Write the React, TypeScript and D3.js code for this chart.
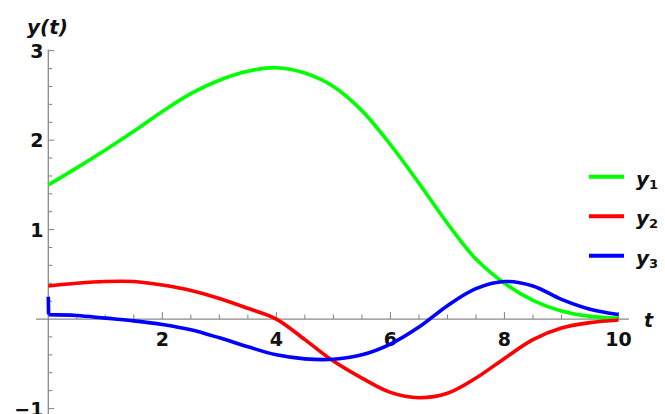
import React from 'react';
import { scaleLinear, line, curveCatmullRom, range } from 'd3';

// sampled from the reference plot, step 0.5 in t
const tValues = [0, 0.5, 1, 1.5, 2, 2.5, 3, 3.5, 4, 4.5, 5, 5.5, 6, 6.5, 7, 7.5, 8, 8.5, 9, 9.5, 10];
const y1Values = [1.5, 1.69, 1.89, 2.1, 2.32, 2.52, 2.67, 2.77, 2.81, 2.75, 2.6, 2.33, 1.95, 1.52, 1.07, 0.67, 0.4, 0.21, 0.09, 0.03, 0.01];
const y2Values = [0.37, 0.4, 0.42, 0.42, 0.38, 0.32, 0.23, 0.12, 0.0, -0.23, -0.47, -0.66, -0.82, -0.88, -0.83, -0.66, -0.44, -0.23, -0.1, -0.04, -0.01];
// y3 jumps right at t = 0 (first two points are joined straight)
const t3Values = [0, 0.005, 0.5, 1, 1.5, 2, 2.5, 3, 3.5, 4, 4.5, 5, 5.5, 6, 6.5, 7, 7.5, 8, 8.5, 9, 9.5, 10];
const y3Values = [0.25, 0.05, 0.04, 0.01, -0.02, -0.06, -0.12, -0.21, -0.31, -0.4, -0.445, -0.45, -0.4, -0.28, -0.09, 0.15, 0.34, 0.42, 0.37, 0.22, 0.11, 0.05];

const seriesNames = ['1', '2', '3'];
const seriesColors = ['#00ff00', '#ff0000', '#0000ff'];

const xMajor = [2, 4, 6, 8, 10];
const yMajor = [-1, 1, 2, 3];
const yMajorLabels = ['\u22121', '1', '2', '3'];

const width = 665;
const height = 414;
const axisColor = '#8a8a8a';
const font = '"DejaVu Sans", sans-serif';

function App() {
  const x = scaleLinear().domain([0, 10]).range([48.3, 618.5]);
  const y = scaleLinear().domain([-1, 3]).range([408.5, 50.7]);

  const xMinor = range(0.5, 10.01, 0.5).filter((v) => !xMajor.some((m) => Math.abs(m - v) < 1e-6));
  const yMinor = range(-1, 3.001, 0.2).filter((v) => Math.abs(v - Math.round(v)) > 1e-6);

  const smooth = line<[number, number]>()
    .x((d) => x(d[0]))
    .y((d) => y(d[1]))
    .curve(curveCatmullRom.alpha(0.5));
  const straight = line<[number, number]>()
    .x((d) => x(d[0]))
    .y((d) => y(d[1]));

  const pts = (ts: number[], vs: number[]) => ts.map((t, i) => [t, vs[i]] as [number, number]);
  const p1 = pts(tValues, y1Values);
  const p2 = pts(tValues, y2Values);
  const p3 = pts(t3Values, y3Values);

  const paths = [
    smooth(p1) || '',
    smooth(p2) || '',
    (straight(p3.slice(0, 2)) || '') + (smooth(p3.slice(1)) || ''),
  ];

  const y0 = y(0);

  return (
    <svg width={width} height={height} style={{ position: 'absolute', left: 0, top: 0, background: '#fff' }}>
      {/* axes */}
      <line x1={36} x2={629} y1={y0} y2={y0} stroke={axisColor} strokeWidth={1.3} />
      <line x1={x(0)} x2={x(0)} y1={49.5} y2={height} stroke={axisColor} strokeWidth={1.3} />

      {xMinor.map((v) => (
        <line key={'xm' + v} x1={x(v)} x2={x(v)} y1={y0} y2={y0 - 4.5} stroke={axisColor} strokeWidth={1.1} />
      ))}
      {xMajor.map((v) => (
        <line key={'xM' + v} x1={x(v)} x2={x(v)} y1={y0} y2={y0 - 7} stroke={axisColor} strokeWidth={1.1} />
      ))}
      {yMinor.map((v) => (
        <line key={'ym' + v} x1={x(0)} x2={x(0) + 4} y1={y(v)} y2={y(v)} stroke={axisColor} strokeWidth={1.1} />
      ))}
      {yMajor.map((v) => (
        <line key={'yM' + v} x1={x(0)} x2={x(0) + 6} y1={y(v)} y2={y(v)} stroke={axisColor} strokeWidth={1.1} />
      ))}

      {xMajor.map((v) => (
        <text key={'xl' + v} x={x(v)} y={345.5} textAnchor="middle" fontFamily={font} fontWeight="bold" fontSize={19} fill="#111">
          {v}
        </text>
      ))}
      {yMajor.map((v, i) => (
        <text key={'yl' + v} x={43.5} y={y(v) + 7} textAnchor="end" fontFamily={font} fontWeight="bold" fontSize={19} fill="#111">
          {yMajorLabels[i]}
        </text>
      ))}

      <text x={27} y={34} fontFamily={font} fontWeight="bold" fontStyle="italic" fontSize={20} fill="#111">
        y(t)
      </text>
      <text x={644} y={326.5} fontFamily={font} fontWeight="bold" fontStyle="italic" fontSize={19} fill="#111">
        t
      </text>

      {/* curves */}
      {paths.map((d, i) => (
        <path key={'s' + i} d={d} fill="none" stroke={seriesColors[i]} strokeWidth={3.6} strokeLinejoin="round" />
      ))}

      {/* legend */}
      {seriesNames.map((name, i) => {
        const ly = 176.7 + i * 39.5;
        return (
          <g key={'lg' + i}>
            <line x1={589} x2={624} y1={ly} y2={ly} stroke={seriesColors[i]} strokeWidth={4} />
            <text x={636} y={ly + 9} fontFamily={font} fontWeight="bold" fontStyle="italic" fontSize={20} fill="#111">
              y
              <tspan fontStyle="normal" fontWeight="bold" fontSize={13} dy={3}>
                {name}
              </tspan>
            </text>
          </g>
        );
      })}
    </svg>
  );
}

export default App;
